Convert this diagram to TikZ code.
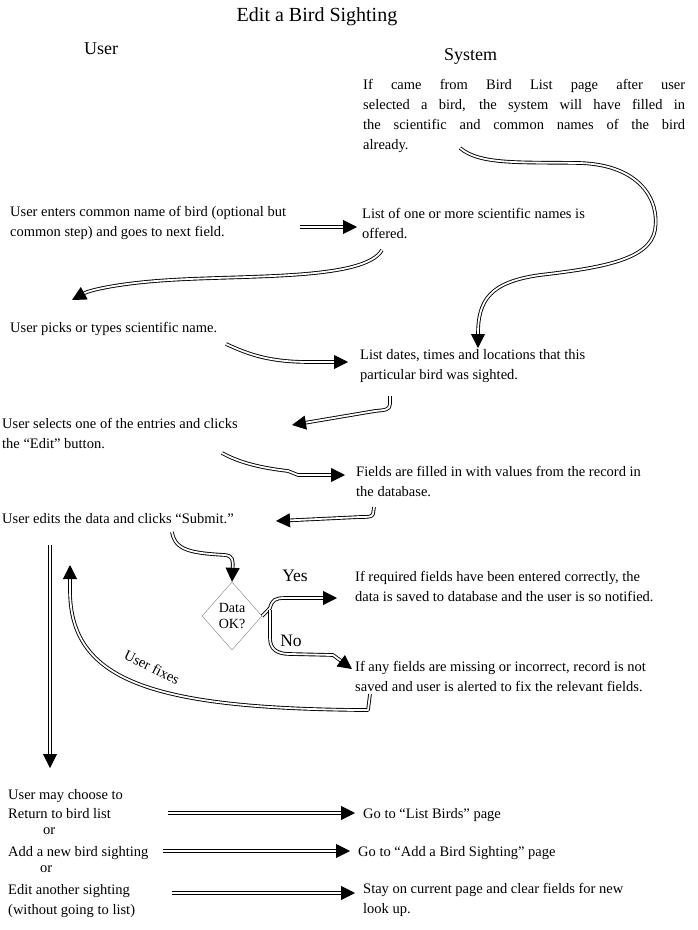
\documentclass[tikz,border=0pt]{standalone}
\usepackage{fontspec}
\setmainfont{Liberation Serif}
\usetikzlibrary{arrows.meta}
\usetikzlibrary{shapes.geometric}
\usetikzlibrary{calc}

\newcommand\bodyfont{\fontsize{14.5pt}{20pt}\selectfont}
\newcommand\jline[1]{\makebox[322pt][s]{#1}}

\tikzset{
  flow/.style={double, double distance=1.8pt, line width=0.9pt, line join=round,
    -{Triangle[length=14pt,width=14pt]}},
  txt/.style={anchor=north west, align=left, inner sep=0pt, font=\bodyfont},
  head/.style={anchor=base west, inner sep=0pt, font=\fontsize{18pt}{20pt}\selectfont},
  branch/.style={font=\fontsize{17.5pt}{19pt}\selectfont},
}

\begin{document}
\begin{tikzpicture}[x=1pt,y=-1pt]
\useasboundingbox (0,0) rectangle (697,930);

% headings
\node[anchor=base, inner sep=0pt, font=\fontsize{20pt}{22pt}\selectfont] (title) at (317,21) {Edit a Bird Sighting};
\node[head] (user) at (84,54) {User};
\node[head] (system) at (444,60) {System};

% text blocks
\node[txt] (sysprefill) at (363,79) {\jline{If came from Bird List page after user}\\\jline{selected a bird, the system will have filled in}\\\jline{the scientific and common names of the bird}\\already.};
\node[txt] (usrcommon) at (10,206) {User enters common name of bird (optional but\\common step) and goes to next field.};
\node[txt] (syssci) at (362,208) {List of one or more scientific names is\\offered.};
\node[txt] (usrpick) at (10,322) {User picks or types scientific name.};
\node[txt] (sysdates) at (360,349) {List dates, times and locations that this\\particular bird was sighted.};
\node[txt] (usrselect) at (2,418) {User selects one of the entries and clicks\\the ``Edit'' button.};
\node[txt] (sysfill) at (356,466) {Fields are filled in with values from the record in\\the database.};
\node[txt] (usredit) at (2,513) {User edits the data and clicks ``Submit.''};
\node[diamond, draw=gray, minimum width=60pt, minimum height=68pt, inner sep=0pt,
  align=center, font=\fontsize{14pt}{16pt}\selectfont] (check) at (232,616) {Data\\OK?};
\node[branch] (yes) at (295,576) {Yes};
\node[branch] (no) at (291,641) {No};
\node[txt] (sysok) at (355,571) {If required fields have been entered correctly, the\\data is saved to database and the user is so notified.};
\node[txt] (syserr) at (355,661) {If any fields are missing or incorrect, record is not\\saved and user is alerted to fix the relevant fields.};
\node[font=\bodyfont, rotate=-26, inner sep=1pt] (fixes) at (152,667) {User fixes};

\node[txt] (usrchoose) at (8,789) {User may choose to};
\node[txt] (usrret) at (8,808) {Return to bird list};
\node[txt] (or1) at (43,827) {or};
\node[txt] (usradd) at (8,846) {Add a new bird sighting};
\node[txt] (or2) at (40,865) {or};
\node[txt] (usrother) at (8,884) {Edit another sighting\\(without going to list)};
\node[txt] (golist) at (363,808) {Go to ``List Birds'' page};
\node[txt] (goadd) at (358,846) {Go to ``Add a Bird Sighting'' page};
\node[txt] (stay) at (363,883) {Stay on current page and clear fields for new\\look up.};

% connectors
\coordinate (c1) at (300,227);
\coordinate (c2) at (382,250);
\coordinate (c3) at (460,148);
\coordinate (c4) at (226,344);
\coordinate (c5) at (390,396);
\coordinate (c6) at (222,453);
\coordinate (c7) at (374,507);
\coordinate (c8) at (172,532);
\coordinate (c9) at (370,694);
\coordinate (c10) at (50,545);

\draw[flow] (c1) -- (357,227);
\draw[flow] (c2) .. controls (365,280) and (250,275) .. (170,280) .. controls (120,283) and (90,290) .. (72,300);
\draw[flow] (c3) .. controls (480,165) and (520,162) .. (580,163) .. controls (640,165) and (660,200) .. (655,230)
  .. controls (650,260) and (600,268) .. (540,275) .. controls (490,282) and (478,300) .. (478,348);
\draw[flow] (c4) .. controls (250,355) and (270,362) .. (310,362) -- (348,362);
\draw[flow] (c5) -- (390,404) .. controls (390,410) and (385,410) .. (375,411) -- (292,425);
\draw[flow] (c6) .. controls (240,463) and (262,468) .. (288,471) -- (298,475) -- (345,475);
\draw[flow] (c7) -- (373,514) .. controls (372,517) and (368,517) .. (360,517) -- (276,521);
\draw[flow] (c8) .. controls (175,550) and (190,553) .. (225,555) .. controls (233,556) and (233,560) .. (check.north);
\draw[flow] (check.east) -- (270,608) .. controls (272,600) and (275,598) .. (285,598) -- (337,598);
\draw[flow] (270,610) -- (270,638) .. controls (270,650) and (278,654) .. (290,654) -- (333,655) -- (352,669);
\draw[flow] (c9) -- (368,710) -- (360,710) .. controls (150,708) and (70,680) .. (70,590) -- (70,565);
\draw[flow] (c10) -- (50,768);
\draw[flow] (168,813) -- (355,813);
\draw[flow] (163,851) -- (350,851);
\draw[flow] (172,893) -- (355,893);
\end{tikzpicture}
\end{document}
